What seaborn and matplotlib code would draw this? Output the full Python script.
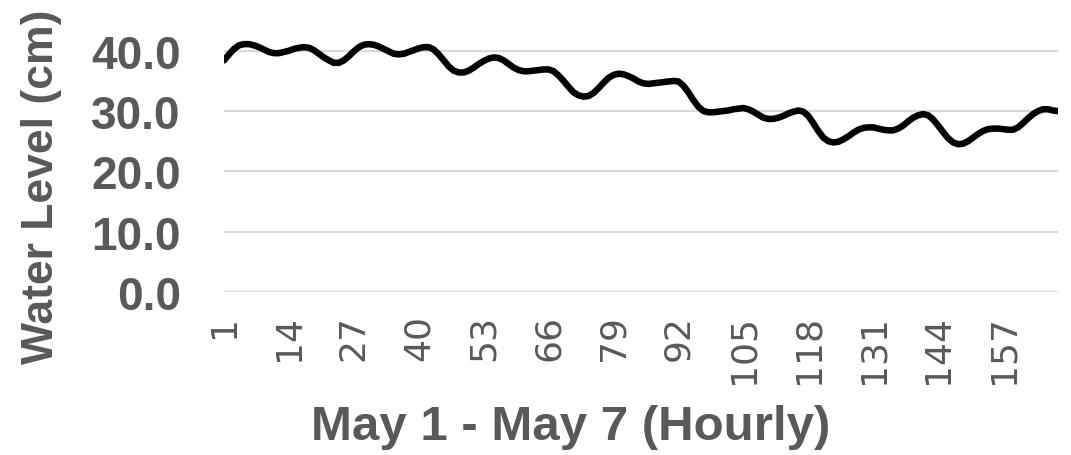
import matplotlib
matplotlib.use("Agg")
import matplotlib.pyplot as plt
import seaborn as sns
import pandas as pd

# ---- data ----
hours = list(range(1, 169))
water_level = [
    # day 1
    38.4, 39.4, 40.3, 40.9, 41.1, 41.1, 40.9, 40.6, 40.2, 39.8, 39.6, 39.6,
    39.8, 40.0, 40.3, 40.5, 40.6, 40.5, 40.1, 39.5, 38.9, 38.4, 38.0, 38.0,
    # day 2
    38.4, 39.1, 39.9, 40.6, 41.0, 41.1, 41.0, 40.7, 40.3, 39.9, 39.5, 39.4,
    39.5, 39.8, 40.1, 40.4, 40.6, 40.6, 40.2, 39.4, 38.4, 37.4, 36.7, 36.4,
    # day 3
    36.4, 36.7, 37.2, 37.8, 38.3, 38.7, 38.9, 38.8, 38.4, 37.8, 37.2, 36.8,
    36.6, 36.6, 36.7, 36.8, 36.9, 36.9, 36.6, 35.9, 35.0, 34.0, 33.1, 32.6,
    # day 4
    32.4, 32.5, 33.0, 33.8, 34.7, 35.5, 36.0, 36.2, 36.1, 35.8, 35.4, 34.9,
    34.6, 34.5, 34.6, 34.7, 34.8, 34.9, 35.0, 34.9, 34.2, 33.1, 31.8, 30.7,
    # day 5
    30.0, 29.8, 29.8, 29.9, 30.0, 30.1, 30.3, 30.4, 30.5, 30.3, 29.9, 29.4,
    28.9, 28.7, 28.7, 28.9, 29.2, 29.6, 29.9, 30.1, 29.9, 29.2, 28.0, 26.7,
    # day 6
    25.6, 25.0, 24.8, 24.9, 25.3, 25.8, 26.4, 26.9, 27.2, 27.3, 27.3, 27.1,
    26.9, 26.8, 26.8, 27.1, 27.6, 28.3, 28.9, 29.3, 29.5, 29.3, 28.6, 27.6,
    # day 7
    26.5, 25.5, 24.8, 24.5, 24.6, 25.0, 25.6, 26.2, 26.7, 27.0, 27.1, 27.1,
    27.0, 26.9, 26.9, 27.3, 28.0, 28.8, 29.5, 30.0, 30.3, 30.3, 30.1, 30.0,
]
x_ticks = list(range(1, 169, 13))
x_tick_labels = [str(t) for t in x_ticks]
y_ticks = [0, 10, 20, 30, 40]
y_tick_labels = ["0.0", "10.0", "20.0", "30.0", "40.0"]
x_title = "May 1 - May 7 (Hourly)"
y_title = "Water Level (cm)"

df = pd.DataFrame({"hour": hours, "level": water_level})

sns.set_style("white")
plt.rcParams["font.family"] = ["Liberation Sans", "DejaVu Sans"]
TXT = "#595959"

fig = plt.figure(figsize=(10.71, 4.56), dpi=100)
ax = fig.add_axes([224 / 1071, 1 - 293 / 456, (1058 - 224) / 1071, (293 - 21.6) / 456])

sns.lineplot(data=df, x="hour", y="level", color="black", linewidth=4.7, ax=ax)

ax.set_xlim(1, 168)
ax.set_ylim(0, 45)
ax.set_yticks(y_ticks)
ax.set_yticklabels(y_tick_labels, fontsize=33, fontweight="bold", color=TXT)
ax.set_xticks(x_ticks)
ax.set_xticklabels(x_tick_labels, rotation=90, fontsize=26, color=TXT,
                   family=["Liberation Sans Narrow", "DejaVu Sans"])
ax.tick_params(axis="y", length=0, pad=31)
ax.tick_params(axis="x", length=0, pad=16)

ax.yaxis.grid(True, color="#d9d9d9", linewidth=1.5)
ax.xaxis.grid(False)
for s in ax.spines.values():
    s.set_visible(False)

ax.set_xlabel(x_title, fontsize=35.5, fontweight="bold", color=TXT, va="center")
ax.set_ylabel(y_title, fontsize=32, fontweight="bold", color=TXT, va="center")
ax.xaxis.set_label_coords((571 - 225) / 833, (293 - 428) / 271.4)
ax.yaxis.set_label_coords((42 - 224) / 834, (293 - 187) / 271.4)

fig.savefig("out.png", dpi=100)
